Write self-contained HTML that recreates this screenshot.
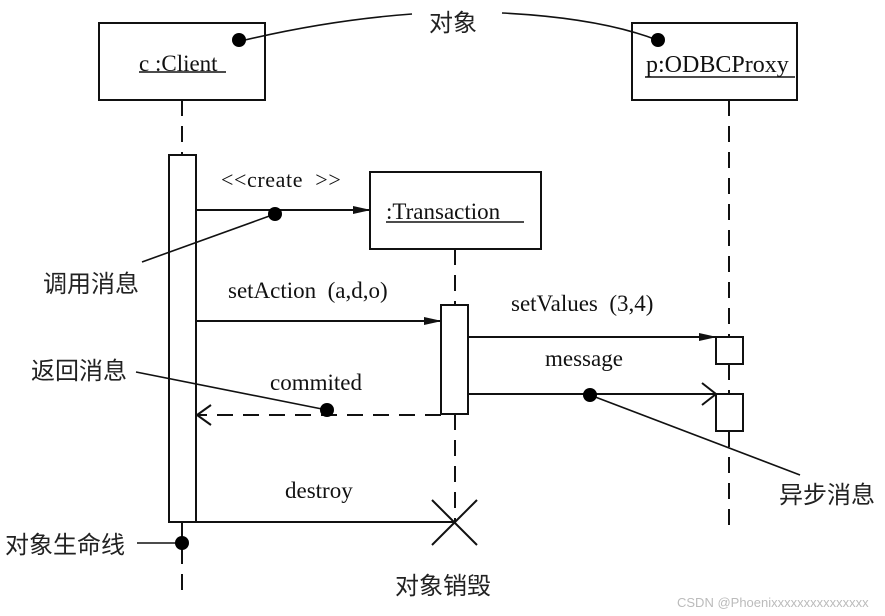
<!DOCTYPE html>
<html><head><meta charset="utf-8"><style>
html,body{margin:0;padding:0;background:#fff;}
svg{display:block;}
.t{font-family:"Liberation Serif",serif;font-size:23px;fill:#111;}
.c{font-family:"Liberation Sans","Noto Sans CJK SC",sans-serif;font-size:24px;fill:#222;}
</style></head><body>
<svg width="885" height="616" viewBox="0 0 885 616" xmlns="http://www.w3.org/2000/svg">
<defs>
<marker id="fa" markerWidth="18" markerHeight="10" refX="17" refY="5" orient="auto" markerUnits="userSpaceOnUse"><path d="M0,1 L18,5 L0,9 Z" fill="#111"/></marker>
</defs>
<g stroke="#111" stroke-width="2" fill="none">
<rect x="99" y="23" width="166" height="77" fill="#fff"/>
<rect x="632" y="23" width="165" height="77" fill="#fff"/>
<rect x="370" y="172" width="171" height="77" fill="#fff"/>
<line x1="182" y1="100" x2="182" y2="155" stroke-dasharray="16,10"/>
<line x1="182" y1="522" x2="182" y2="590" stroke-dasharray="16,10"/>
<line x1="455" y1="249" x2="455" y2="305" stroke-dasharray="16,10"/>
<line x1="455" y1="414" x2="455" y2="522" stroke-dasharray="16,10"/>
<line x1="729" y1="100" x2="729" y2="337" stroke-dasharray="16,10"/>
<line x1="729" y1="364" x2="729" y2="394" stroke-dasharray="16,10"/>
<line x1="729" y1="431" x2="729" y2="525" stroke-dasharray="16,10"/>
<rect x="169" y="155" width="27" height="367" fill="#fff"/>
<rect x="441" y="305" width="27" height="109" fill="#fff"/>
<rect x="716" y="337" width="27" height="27" fill="#fff"/>
<rect x="716" y="394" width="27" height="37" fill="#fff"/>
<line x1="196" y1="210" x2="370" y2="210" marker-end="url(#fa)"/>
<line x1="196" y1="321" x2="441" y2="321" marker-end="url(#fa)"/>
<line x1="468" y1="337" x2="716" y2="337" marker-end="url(#fa)"/>
<line x1="468" y1="394" x2="716" y2="394"/>
<polyline points="702,383 716,394 702,405"/>
<line x1="441" y1="415" x2="198" y2="415" stroke-dasharray="16,10"/>
<polyline points="211,405 197,415 211,425"/>
<line x1="196" y1="522" x2="455" y2="522"/>
<line x1="432" y1="500" x2="477" y2="545"/>
<line x1="477" y1="500" x2="432" y2="545"/>
<path d="M245,40 Q330,20 412,14" stroke-width="1.6"/>
<path d="M502,13 Q600,18 657,40" stroke-width="1.6"/>
<line x1="142" y1="262" x2="275" y2="214" stroke-width="1.6"/>
<line x1="136" y1="372" x2="327" y2="410" stroke-width="1.6"/>
<line x1="590" y1="395" x2="800" y2="475" stroke-width="1.6"/>
<line x1="137" y1="543" x2="182" y2="543" stroke-width="1.6"/>
<line x1="139" y1="72" x2="226" y2="72" stroke-width="1.5"/>
<line x1="645" y1="77" x2="795" y2="77" stroke-width="1.5"/>
<line x1="386" y1="222" x2="524" y2="222" stroke-width="1.5"/>
</g>
<g fill="#000">
<circle cx="239" cy="40" r="7"/>
<circle cx="658" cy="40" r="7"/>
<circle cx="275" cy="214" r="7"/>
<circle cx="327" cy="410" r="7"/>
<circle cx="590" cy="395" r="7"/>
<circle cx="182" cy="543" r="7"/>
</g>
<text class="t" x="139" y="71">c :Client</text>
<text class="t" x="646" y="72" style="font-size:24px">p:ODBCProxy</text>
<text class="t" x="386" y="219">:Transaction</text>
<text class="t" x="221" y="187" style="font-size:22px;letter-spacing:0.6px" xml:space="preserve">&lt;&lt;create  &gt;&gt;</text>
<text class="t" x="228" y="298" xml:space="preserve">setAction  (a,d,o)</text>
<text class="t" x="511" y="311" xml:space="preserve">setValues  (3,4)</text>
<text class="t" x="545" y="366">message</text>
<text class="t" x="270" y="390">commited</text>
<text class="t" x="285" y="498">destroy</text>
<text class="c" x="429" y="31">对象</text>
<text class="c" x="43" y="292">调用消息</text>
<text class="c" x="31" y="379">返回消息</text>
<text class="c" x="779" y="503">异步消息</text>
<text class="c" x="5" y="553">对象生命线</text>
<text class="c" x="395" y="594">对象销毁</text>
<text x="677" y="607" style="font-family:'Liberation Sans',sans-serif;font-size:13px;fill:#bbb">CSDN @Phoenixxxxxxxxxxxxxxx</text>
</svg>
</body></html>
